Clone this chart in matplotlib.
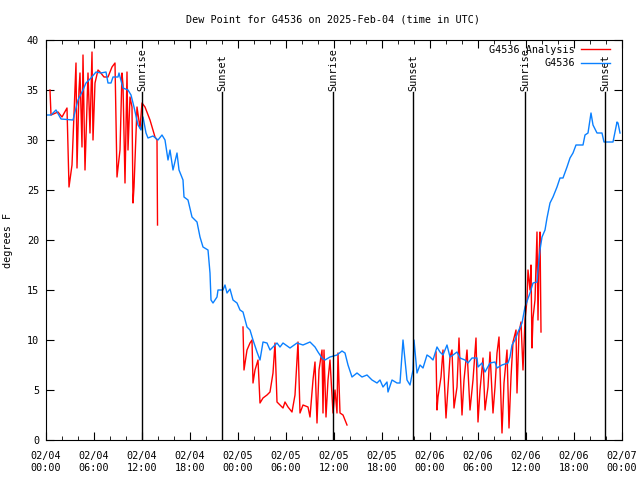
import matplotlib
matplotlib.use("Agg")
import matplotlib.pyplot as plt
import matplotlib.dates as mdates
import numpy as np
import pandas as pd

START = pd.Timestamp("2025-02-04 00:00")

# G4536 observations: hours since start, dew point (F)
obs_hours = [0, 0.625, 1.25, 1.875, 3.375, 4, 4.625, 5, 5.625, 6.25, 6.875, 7.5, 7.75,
             8.125, 8.375, 9, 9.125, 9.625, 10.25, 10.625, 11, 11.5, 11.875, 12.125,
             12.5, 12.75, 13.375, 14, 14.5, 14.875, 15.25, 15.5, 15.875, 16.375, 16.625,
             17.125, 17.25, 17.75, 18.25, 18.875, 19, 19.25, 19.625, 20.25, 20.5, 20.625,
             20.875, 21.375, 21.5, 22.125, 22.375, 22.625, 23, 23.375, 23.875, 24.25,
             24.625, 25.125, 25.5, 25.875, 26.375, 26.75, 27.125, 27.625, 28, 28.875,
             29.25, 29.625, 30.5, 31.375, 32.125, 33, 33.625, 34, 34.5, 34.875, 35.5,
             36.375, 37, 37.375, 37.75, 38.25, 38.875, 39.5, 40.125, 40.75, 41.375,
             41.75, 42.125, 42.625, 42.75, 43.25, 43.875, 44.25, 44.625, 45.125, 45.5,
             45.875, 46, 46.375, 46.75, 47.125, 47.625, 48, 48.375, 48.875, 49.25,
             49.625, 50.125, 50.5, 50.875, 51.375, 51.75, 52.375, 52.75, 53.25, 53.875,
             54, 54.5, 54.875, 55.5, 56.125, 56.375, 57, 57.75, 58, 58.25, 58.625, 59,
             59.5, 59.875, 60.5, 60.875, 61.375, 61.5, 61.75, 62, 62.375, 62.625, 62.75,
             63, 63.375, 63.875, 64.25, 64.625, 65.125, 65.5, 65.875, 66.25, 67.125,
             67.375, 67.75, 68.125, 68.375, 68.875, 69.5, 69.75, 70.875, 71.375, 71.5,
             71.75]
obs_vals = [32.5, 32.5, 33, 32.1, 32.0, 34, 35, 35.7, 36.2, 36.8, 36.7, 36.8, 35.7,
            35.7, 36.3, 36.3, 36.7, 35.2, 35, 34.5, 33.3, 31.5, 31, 32.3,
            30.7, 30.2, 30.4, 30, 30.5, 30, 28, 29, 27, 28.7, 27,
            26, 24.3, 24, 22.3, 21.8, 21.3, 20.3, 19.3, 19, 16.7, 14,
            13.7, 14.3, 15, 15, 15.5, 14.7, 15.1, 14, 13.7, 13,
            12.8, 11.3, 11, 10, 8.8, 8, 9.8, 9.7, 9, 9.7,
            9.3, 9.7, 9.2, 9.7, 9.5, 9.8, 9.3, 8.8, 8.2, 8, 8.3,
            8.5, 8.9, 8.7, 7.5, 6.3, 6.7, 6.3, 6.5, 6, 5.7,
            6, 5.3, 5.8, 4.8, 6, 5.7, 5.7, 10, 6, 5.5,
            7, 10, 6.7, 7.5, 7.2, 8.5, 8.3, 8, 9.3, 8.8,
            8.5, 9.5, 8.3, 8.5, 8.8, 8.2, 8, 7.7, 8.2, 8.2,
            7.3, 7.7, 6.8, 7.7, 7.8, 7.2, 7.5, 7.7, 8.3, 9.5, 10, 10.8,
            11.7, 13.3, 14.7, 15.7, 15.8, 17, 19, 20.3, 21, 22.2, 22.7,
            23.7, 24.3, 25.3, 26.2, 26.2, 27.3, 28.2, 28.7, 29.5, 29.5,
            30.5, 30.7, 32.7, 31.5, 30.7, 30.7, 29.8, 29.8, 31.8, 31.7,
            30.7]

# G4536 analysis: hours since start, dew point (F); NaN marks gaps
ana_hours = [0.5, 0.625, 1.5, 2, 2.625, 2.875, 3.25, 3.625, 3.75, 3.875, 4.125, 4.25,
             4.5, 4.625, 4.875, 5.25, 5.5, 5.75, 5.875, 6.125, 6.5, 6.75, 7.25, 7.75,
             8.25, 8.625, 8.875, 9.25, 9.5, 9.625, 9.875, 10.125, 10.25, 10.5, 10.75,
             10.875, 11, 11.375, 11.75, 12, 12.375, 13, 13.625, 13.875, 13.94,
             14.0,
             24.625, 24.75, 25.125, 25.5, 25.75, 25.875, 26.125, 26.5, 26.75, 27.125,
             27.625, 28, 28.375, 28.625, 28.875, 29.25, 29.625, 29.875, 30.25, 30.75,
             31.125, 31.5, 31.75, 32.125, 32.75, 33, 33.375, 33.625, 33.875, 34.125,
             34.5, 34.625, 34.75, 35, 35.25, 35.5, 35.875, 36.125, 36.375, 36.5, 36.75,
             37.125, 37.625,
             37.7,
             48.75, 48.875, 49, 49.375, 49.625, 50, 50.25, 50.5, 50.75, 51, 51.375,
             51.625, 52, 52.25, 52.625, 53, 53.375, 53.75, 54, 54.25, 54.625, 54.875,
             55.25, 55.5, 55.875, 56.125, 56.375, 56.625, 57, 57.25, 57.625, 57.875,
             58.125, 58.375, 58.75, 58.875, 59.125, 59.375, 59.625, 59.875, 60.125,
             60.25, 60.5, 60.625, 60.75, 60.875, 61.125, 61.375, 61.5, 61.625, 61.75,
             61.875]
ana_vals = [35, 32.5, 32.8, 32.3, 33.2, 25.3, 27.5, 35, 37.7, 27.2, 35, 36.7,
            29.3, 38.5, 27, 36.7, 30.7, 38.8, 30, 35.7, 37, 36.8, 36.3, 36.3,
            37.3, 37.7, 26.3, 29, 36.7, 35.5, 25.7, 36.8, 29, 34.3, 33.3,
            23.7, 25.3, 33.3, 31.2, 33.7, 33.3, 32, 30.3, 30, 21.5,
            np.nan,
            11.3, 7, 9, 9.7, 10, 5.7, 7, 8, 3.7, 4.2,
            4.5, 4.8, 6.7, 9.7, 3.8, 3.5, 3.2, 3.8, 3.3, 2.8,
            4.5, 9.8, 2.7, 3.5, 3.3, 2.3, 6, 7.8, 1.7, 7,
            9, 2.7, 9, 2.3, 6, 8, 2.7, 5, 2.7, 8.7, 2.7,
            2.5, 1.5,
            np.nan,
            8.8, 3, 4.3, 6.3, 9, 2.2, 5.3, 8.3, 9, 3.2, 5.3,
            10.2, 2.5, 6, 9, 3, 6, 10.2, 1.8, 5, 8.2, 3,
            5.3, 8.8, 2.7, 5.3, 8.7, 10.3, 0.7, 5.7, 9, 1.2,
            6.3, 9.8, 11, 4.7, 10.7, 11.8, 7, 12, 14,
            17, 15, 17.5, 9.2, 12.2, 14, 20.8, 12, 18, 20.8,
            10.8]

sunrise_hours = [12.0, 35.875, 59.875]
sunset_hours = [22.0, 45.875, 69.875]

plt.rcParams["font.family"] = ["DejaVu Sans Mono"]
plt.rcParams["font.size"] = 7.3


def to_time(hours):
    return START + pd.to_timedelta(hours, unit="h")


fig = plt.figure(figsize=(6.4, 4.8), dpi=100)
ax = fig.add_axes([46 / 640, 40 / 480, 576 / 640, 400 / 480])

ax.plot(to_time(ana_hours), ana_vals, color="#ff0000", lw=1, label="G4536 Analysis")
ax.plot(to_time(obs_hours), obs_vals, color="#0a80ff", lw=1, label="G4536")

for hrs, name in [(sunrise_hours, "Sunrise"), (sunset_hours, "Sunset")]:
    for h in hrs:
        t = to_time(h)
        ax.plot([t, t], [0, 34.8], color="black", lw=1)
        ax.text(t, 34.9, name, rotation=90, ha="center", va="bottom")

ax.set_xlim(START, START + pd.Timedelta(hours=72))
ax.set_ylim(0, 40)
ax.set_yticks(range(0, 41, 5))
ax.xaxis.set_major_locator(mdates.HourLocator(byhour=range(0, 24, 6)))
ax.xaxis.set_minor_locator(mdates.HourLocator(byhour=range(0, 24, 2)))
ax.xaxis.set_major_formatter(mdates.DateFormatter("%m/%d\n%H:%M"))
ax.tick_params(which="both", direction="in", top=True, right=True, color="black")
ax.tick_params(which="major", length=6, pad=8)
ax.tick_params(which="minor", length=3)
ax.tick_params(axis="y", pad=5)

ax.set_ylabel("degrees F", labelpad=10)
fig.suptitle("Dew Point for G4536 on 2025-Feb-04 (time in UTC)", x=0.52, y=0.97,
             fontsize=7.3)

ax.legend(loc="upper right", bbox_to_anchor=(0.991, 1.006), frameon=False,
          markerfirst=False, handlelength=2.8, borderaxespad=0.3,
          labelspacing=0.35, handletextpad=0.6)

plt.savefig("out.png", dpi=100)
